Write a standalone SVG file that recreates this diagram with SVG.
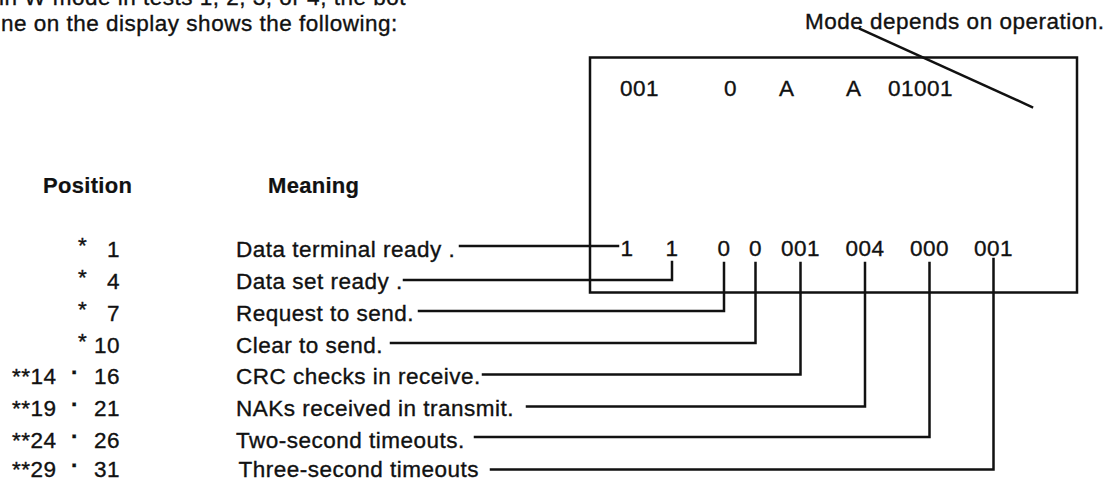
<svg xmlns="http://www.w3.org/2000/svg" width="1117" height="481" viewBox="0 0 1117 481">
  <style>
    text { font-family: "Liberation Sans", Arial, sans-serif; font-size: 22.5px; letter-spacing: 0.5px; fill: #111; stroke: #111; stroke-width: 0.35px; }
    .hdr { font-weight: bold; font-size: 22px; letter-spacing: 0.3px; stroke-width: 0.2px; }
    .num { text-anchor: end; }
    .mid { text-anchor: middle; }
    .dot { text-anchor: middle; font-weight: bold; }
    .ln { fill: none; stroke: #111; stroke-width: 2.5; stroke-linecap: square; stroke-linejoin: miter; }
  </style>
  <rect width="1117" height="481" fill="#ffffff"/>

  <g id="intro">
    <text x="-1" y="5">in W mode in tests 1, 2, 3, or 4, the bot</text>
    <text x="1" y="31">ne on the display shows the following:</text>
  </g>

  <g id="mode-note">
    <text x="805" y="29">Mode depends on operation.</text>
  </g>

  <g id="display">
    <rect class="ln" x="590" y="57.5" width="487" height="235"/>
    <text x="620" y="96">001</text>
    <text x="724" y="96">0</text>
    <text x="779" y="96">A</text>
    <text x="846" y="96">A</text>
    <text x="888" y="96">01001</text>
    <text class="mid" x="627" y="256">1</text>
    <text class="mid" x="672" y="256">1</text>
    <text class="mid" x="724" y="256">0</text>
    <text class="mid" x="755.5" y="256">0</text>
    <text class="mid" x="800.5" y="256">001</text>
    <text class="mid" x="865" y="256">004</text>
    <text class="mid" x="929.5" y="256">000</text>
    <text class="mid" x="993.5" y="256">001</text>
  </g>

  <g id="headers">
    <text class="hdr" x="43" y="193">Position</text>
    <text class="hdr" x="268" y="193">Meaning</text>
  </g>

  <g id="row1">
    <text x="78" y="253">*</text><text class="num" x="120" y="257">1</text>
    <text x="236" y="257">Data terminal ready .</text>
  </g>
  <g id="row2">
    <text x="78" y="285">*</text><text class="num" x="120" y="289">4</text>
    <text x="236" y="289">Data set ready .</text>
  </g>
  <g id="row3">
    <text x="78" y="317">*</text><text class="num" x="120" y="321">7</text>
    <text x="236" y="321">Request to send.</text>
  </g>
  <g id="row4">
    <text x="78" y="349">*</text><text class="num" x="120" y="353">10</text>
    <text x="236" y="353">Clear to send.</text>
  </g>
  <g id="row5">
    <text x="12" y="384">**14</text><text class="dot" x="75" y="380">·</text><text class="num" x="120" y="384">16</text>
    <text x="236" y="384">CRC checks in receive.</text>
  </g>
  <g id="row6">
    <text x="12" y="416">**19</text><text class="dot" x="75" y="412">·</text><text class="num" x="120" y="416">21</text>
    <text x="236" y="416">NAKs received in transmit.</text>
  </g>
  <g id="row7">
    <text x="12" y="448">**24</text><text class="dot" x="75" y="444">·</text><text class="num" x="120" y="448">26</text>
    <text x="236" y="448">Two-second timeouts.</text>
  </g>
  <g id="row8">
    <text x="12" y="477">**29</text><text class="dot" x="75" y="473">·</text><text class="num" x="120" y="477">31</text>
    <text x="238.5" y="477">Three-second timeouts</text>
  </g>

  <g id="connectors" class="ln">
    <line x1="860" y1="29" x2="1032" y2="107"/>
    <polyline points="460,246 618,246"/>
    <polyline points="404,280 672,280 672,262"/>
    <polyline points="419,311 724,311 724,263"/>
    <polyline points="391,343 755.5,343 755.5,263"/>
    <polyline points="483,374.5 800.5,374.5 800.5,263"/>
    <polyline points="527,406.5 865,406.5 865,263"/>
    <polyline points="475,437 929.5,437 929.5,263"/>
    <polyline points="491,469.5 993.5,469.5 993.5,259"/>
  </g>
</svg>
